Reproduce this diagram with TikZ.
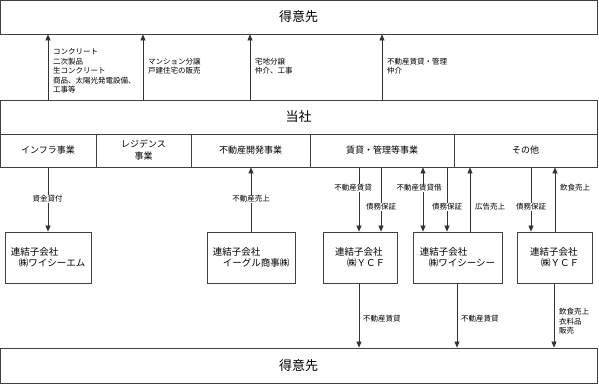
\documentclass[tikz,border=0pt]{standalone}
\usepackage{fontspec}
\setmainfont{Noto Sans CJK JP}
\usetikzlibrary{arrows.meta}
\begin{document}
\begin{tikzpicture}[x=1pt,y=-1pt,
  frame/.style={draw=black!75, line width=0.8pt, inner sep=0pt, minimum height=#1},
  title/.style={font=\fontsize{13}{15}\selectfont},
  segtxt/.style={font=\fontsize{9}{12}\selectfont, align=center},
  subtxt/.style={font=\fontsize{9.5}{10.5}\selectfont, align=left},
  arr/.style={draw=black!80, line width=0.7pt, -{Triangle[length=6pt,width=5pt]}},
  dblarr/.style={draw=black!80, line width=0.7pt, {Triangle[length=6pt,width=5pt]}-{Triangle[length=6pt,width=5pt]}},
  lab/.style={font=\fontsize{7.5}{9.5}\selectfont, align=left, inner sep=0pt, anchor=north west},
  onlab/.style={font=\fontsize{7.5}{9.5}\selectfont, fill=white, inner sep=1pt},
  sidelab/.style={font=\fontsize{7.5}{9.5}\selectfont, align=left, inner sep=0pt, anchor=west}]
\useasboundingbox (0,0) rectangle (599,384);
\fill[white] (0,0) rectangle (599,384);

% main boxes
\node[frame=34pt, minimum width=597pt, title] (top) at (298.5,17) {得意先};
\node[frame=34pt, minimum width=597pt, title] (company) at (298.5,117) {当社};
\node[frame=33pt, minimum width=96pt, segtxt] (seg1) at (48,150.5) {インフラ事業};
\node[frame=33pt, minimum width=95pt, segtxt] (seg2) at (143.5,150.5) {レジデンス\\事業};
\node[frame=33pt, minimum width=119pt, segtxt] (seg3) at (250.5,150.5) {不動産開発事業};
\node[frame=33pt, minimum width=144pt, segtxt] (seg4) at (382,150.5) {賃貸・管理等事業};
\node[frame=33pt, minimum width=143pt, segtxt] (seg5) at (525.5,150.5) {その他};
\node[frame=35pt, minimum width=597pt, title] (bottom) at (298.5,365.5) {得意先};

% subsidiaries
\node[frame=51pt, minimum width=86pt, subtxt] (sub1) at (48,257.5) {連結子会社\\\hspace{8pt}㈱ワイシーエム};
\node[frame=51pt, minimum width=88pt, subtxt] (sub2) at (251,257.5) {連結子会社\\\hspace{10pt}イーグル商事㈱};
\node[frame=51pt, minimum width=74pt, subtxt] (sub3) at (360,257.5) {連結子会社\\\hspace{12pt}㈱ＹＣＦ};
\node[frame=51pt, minimum width=89pt, subtxt] (sub4) at (457.5,257.5) {連結子会社\\\hspace{9pt}㈱ワイシーシー};
\node[frame=51pt, minimum width=75pt, subtxt] (sub5) at (554.5,257.5) {連結子会社\\\hspace{11pt}㈱ＹＣＦ};

% column coordinates
\coordinate (u1) at (48,0);
\coordinate (u2) at (143,0);
\coordinate (u3) at (250,0);
\coordinate (u4) at (382,0);
\coordinate (d1) at (48,0);
\coordinate (d2) at (251,0);
\coordinate (d3) at (359,0);
\coordinate (d4) at (381,0);
\coordinate (d5) at (423,0);
\coordinate (d6) at (447,0);
\coordinate (d7) at (470,0);
\coordinate (d8) at (531,0);
\coordinate (d9) at (555,0);
\coordinate (b1) at (359,0);
\coordinate (b2) at (457,0);
\coordinate (b3) at (554,0);

% upper arrows
\draw[arr] (company.north -| u1) -- (top.south -| u1);
\draw[arr] (company.north -| u2) -- (top.south -| u2);
\draw[arr] (company.north -| u3) -- (top.south -| u3);
\draw[arr] (company.north -| u4) -- (top.south -| u4);
\node[lab] (t1) at (53,48.5) {コンクリート\\二次製品\\生コンクリート\\商品、太陽光発電設備、\\工事等};
\node[lab] (t2) at (148,57.5) {マンション分譲\\戸建住宅の販売};
\node[lab] (t3) at (255,57.5) {宅地分譲\\仲介、工事};
\node[lab] (t4) at (387,57.5) {不動産賃貸・管理\\仲介};

% middle arrows
\draw[arr] (seg1.south -| d1) -- (sub1.north -| d1);
\node[onlab] at (47.5,199) {資金貸付};
\draw[arr] (sub2.north -| d2) -- (seg3.south -| d2);
\node[onlab] at (251,199) {不動産売上};
\draw[arr] (seg4.south -| d3) -- (sub3.north -| d3);
\node[onlab] at (353,188) {不動産賃貸};
\draw[arr] (seg4.south -| d4) -- (sub3.north -| d4);
\node[onlab] at (381,207) {債務保証};
\draw[dblarr] (seg4.south -| d5) -- (sub4.north -| d5);
\node[onlab] at (419,188) {不動産賃貸借};
\draw[arr] (seg4.south -| d6) -- (sub4.north -| d6);
\node[onlab] at (447,207) {債務保証};
\draw[arr] (sub4.north -| d7) -- (seg5.south -| d7);
\node[sidelab] at (475,207) {広告売上};
\draw[arr] (seg5.south -| d8) -- (sub5.north -| d8);
\node[onlab] at (531,207) {債務保証};
\draw[arr] (sub5.north -| d9) -- (seg5.south -| d9);
\node[sidelab] at (560,188) {飲食売上};

% lower arrows
\draw[arr] (sub3.south -| b1) -- (bottom.north -| b1);
\node[sidelab] at (363,319) {不動産賃貸};
\draw[arr] (sub4.south -| b2) -- (bottom.north -| b2);
\node[sidelab] at (461,319) {不動産賃貸};
\draw[arr] (sub5.south -| b3) -- (bottom.north -| b3);
\node[sidelab] at (559,321.5) {飲食売上\\衣料品\\販売};
\end{tikzpicture}
\end{document}
